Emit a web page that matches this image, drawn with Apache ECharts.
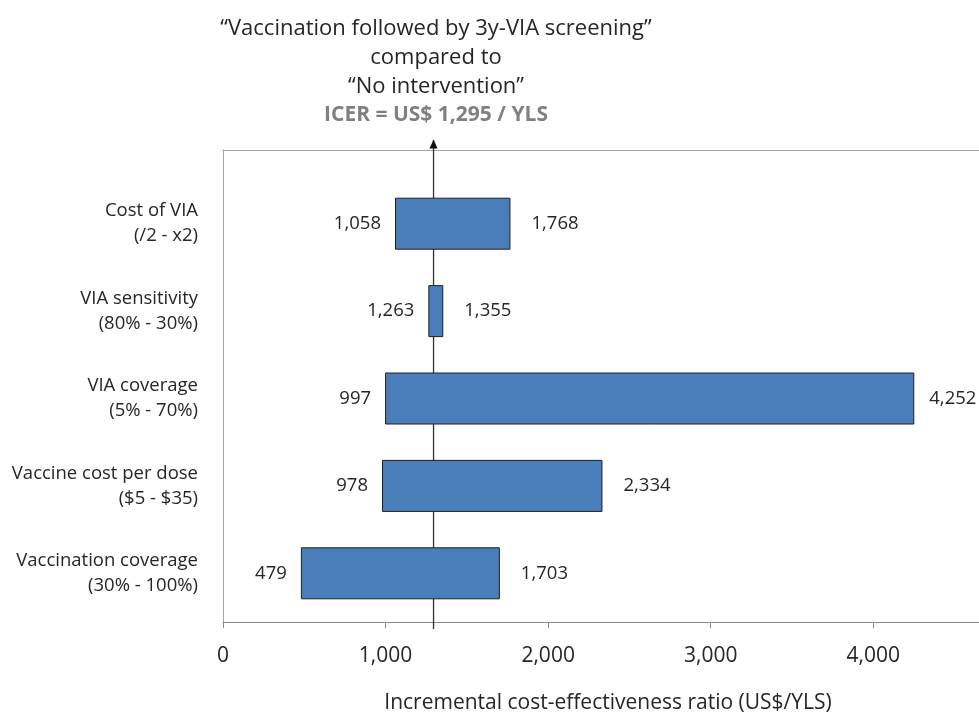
<!DOCTYPE html>
<html>
<head>
<meta charset="utf-8">
<script src="https://cdn.jsdelivr.net/npm/echarts@6/dist/echarts.min.js"></script>
<style>
  html, body { margin: 0; padding: 0; background: #fff; }
  #chart { width: 979px; height: 719px; }
</style>
</head>
<body>
<div id="chart"></div>
<script>
// tornado chart data
const categories = [
  'Cost of VIA\n(/2 - x2)',
  'VIA sensitivity\n(80% - 30%)',
  'VIA coverage\n(5% - 70%)',
  'Vaccine cost per dose\n($5 - $35)',
  'Vaccination coverage\n(30% - 100%)'
]
const lowValues = [1058, 1263, 997, 978, 479]
const highValues = [1768, 1355, 4252, 2334, 1703]
const icer = 1295
const xMax = 4650
const xInterval = 1000

const fmt = v => v.toLocaleString('en-US')
const font = 'Open Sans'
const textColor = '#262626'

const chart = echarts.init(document.getElementById('chart'))

const option = {
  animation: false,
  textStyle: { fontFamily: font },
  title: {
    text: '“Vaccination followed by 3y-VIA screening”\ncompared to\n“No intervention”\n{b|ICER = US$ 1,295 / YLS}',
    left: 431,
    top: 9,
    textAlign: 'center',
    textStyle: {
      fontFamily: font,
      fontSize: 22,
      fontWeight: 'normal',
      color: textColor,
      lineHeight: 29,
      rich: {
        b: { fontFamily: font, fontSize: 21, fontWeight: 'bold', color: '#808080', lineHeight: 29 }
      }
    }
  },
  grid: [
    // frame grid (axis + borders)
    { left: 223, right: 0, top: 150, bottom: 89 },
    // bar grid
    { left: 223, right: 0, top: 180, bottom: 102 }
  ],
  xAxis: [
    {
      gridIndex: 0,
      type: 'value',
      min: 0,
      max: xMax,
      interval: xInterval,
      position: 'bottom',
      name: 'Incremental cost-effectiveness ratio (US$/YLS)',
      nameLocation: 'middle',
      nameGap: 71,
      nameTextStyle: { fontSize: 21, color: textColor, fontFamily: font, padding: [0, 0, 0, 14] },
      axisLine: { show: true, lineStyle: { color: '#8c8c8c', width: 1 } },
      axisTick: { show: true, inside: false, length: 6, lineStyle: { color: '#8c8c8c' } },
      axisLabel: {
        fontSize: 21,
        color: textColor,
        margin: 24,
        showMaxLabel: false,
        formatter: v => fmt(v)
      },
      splitLine: { show: false }
    },
    {
      gridIndex: 0,
      type: 'value',
      min: 0,
      max: xMax,
      position: 'top',
      axisLine: { show: true, lineStyle: { color: '#a6a6a6', width: 1 } },
      axisTick: { show: false },
      axisLabel: { show: false },
      splitLine: { show: false }
    },
    {
      gridIndex: 1,
      type: 'value',
      min: 0,
      max: xMax,
      show: false
    }
  ],
  yAxis: [
    {
      gridIndex: 0,
      type: 'value',
      min: 0,
      max: 1,
      axisLine: { show: true, lineStyle: { color: '#a6a6a6', width: 1 } },
      axisTick: { show: false },
      axisLabel: { show: false },
      splitLine: { show: false }
    },
    {
      gridIndex: 1,
      type: 'category',
      data: categories,
      inverse: true,
      axisLine: { show: false },
      axisTick: { show: false },
      axisLabel: {
        fontSize: 18.5,
        color: textColor,
        lineHeight: 25,
        align: 'right',
        margin: 25
      }
    }
  ],
  series: [
    {
      // ICER reference line with arrow
      type: 'line',
      xAxisIndex: 0,
      yAxisIndex: 0,
      clip: false,
      silent: true,
      z: 1,
      lineStyle: { color: '#333', width: 1.3 },
      itemStyle: { color: '#111' },
      data: [
        { value: [icer, -0.015], symbol: 'none' },
        { value: [icer, 1.021], symbol: 'triangle', symbolSize: [8, 9], symbolOffset: [0, 4] }
      ]
    },
    {
      name: 'base',
      type: 'bar',
      xAxisIndex: 2,
      yAxisIndex: 1,
      stack: 'range',
      barWidth: 52,
      silent: true,
      itemStyle: { color: 'transparent' },
      data: lowValues
    },
    {
      name: 'range',
      type: 'bar',
      xAxisIndex: 2,
      yAxisIndex: 1,
      stack: 'range',
      barWidth: 52,
      z: 3,
      itemStyle: { color: '#4a7ebb', borderColor: '#1f1f1f', borderWidth: 1 },
      label: {
        show: true,
        position: 'right',
        distance: 21,
        fontSize: 18.5,
        color: textColor,
        formatter: p => fmt(highValues[p.dataIndex])
      },
      // the long bar's label sits closer so it fits
      data: highValues.map((h, i) => (h > 4000
        ? { value: h - lowValues[i], label: { distance: 15 } }
        : h - lowValues[i]))
    },
    {
      name: 'low labels',
      type: 'scatter',
      xAxisIndex: 2,
      yAxisIndex: 1,
      symbolSize: 0.1,
      itemStyle: { color: 'transparent', opacity: 1 },
      z: 4,
      label: {
        show: true,
        position: 'left',
        distance: 14,
        fontSize: 18.5,
        color: textColor,
        formatter: p => fmt(p.value[0])
      },
      data: lowValues.map((v, i) => [v, i])
    }
  ]
}

chart.setOption(option)
</script>
</body>
</html>
